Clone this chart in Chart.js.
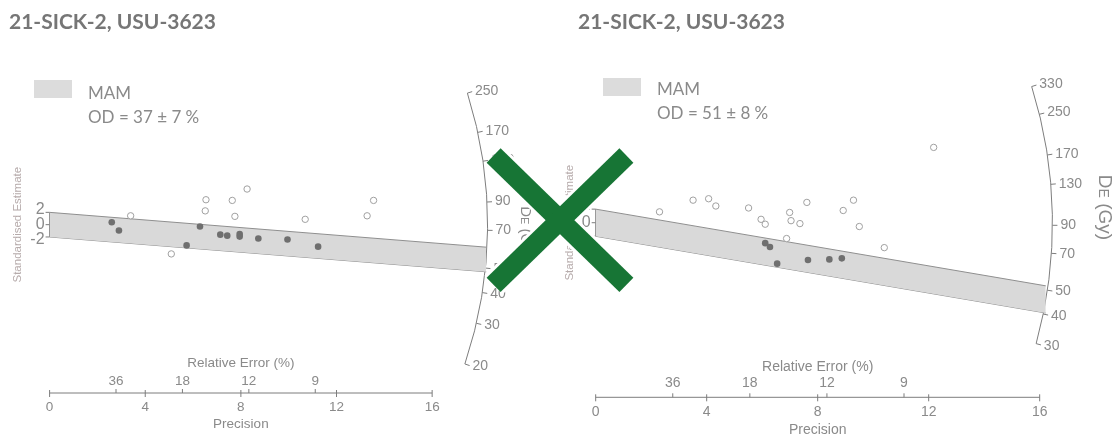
<!DOCTYPE html>
<html>
<head>
<meta charset="utf-8">
<script src="https://cdn.jsdelivr.net/npm/chart.js@4.4.1/dist/chart.umd.min.js"></script>
<style>
  html, body { margin: 0; padding: 0; background: #fff; overflow: hidden; }
  #wrap { position: relative; width: 1120px; height: 438px; }
  #plot { position: absolute; left: 0; top: 0; }
  .title { position: absolute; top: 9px; font: bold 21px Lato, sans-serif; line-height: 24px; color: #767676; white-space: nowrap; }
  .key { position: absolute; font: 17px Lato, sans-serif; line-height: 24px; color: #8a8a8a; white-space: nowrap; }
  .swatch { position: absolute; width: 38px; height: 18px; background: #dcdcdc; }
</style>
</head>
<body>
<div id="wrap">
  <canvas id="plot" width="1120" height="438"></canvas>
  <div class="title" style="left:9px">21-SICK-2, USU-3623</div>
  <div class="title" style="left:578px">21-SICK-2, USU-3623</div>
  <div class="swatch" style="left:34px;top:80px"></div>
  <div class="key" style="left:88px;top:81px">MAM<br><span id="odLeft"></span></div>
  <div class="swatch" style="left:603px;top:78px"></div>
  <div class="key" style="left:657px;top:77px">MAM<br><span id="odRight"></span></div>
</div>
<script>
// axes shared by both radial plots
const precisionTicks = [0, 4, 8, 12, 16];
const relErrorTicks = [36, 18, 12, 9];
const stdTicks = [2, 0, -2];

// left plot
const leftArcTicks = [20, 30, 40, 50, 70, 90, 130, 170, 250];
const leftCentral = 73.6;   // De (Gy) at standardised estimate 0
const leftMam = 54;
const leftOd = "OD = 37 ± 7 %";
const leftInPrec = [2.60, 2.90, 6.29, 5.73, 7.14, 7.43, 7.95, 7.95, 8.73, 9.95, 11.23];
const leftInStd = [0.40, -0.94, -0.30, -3.37, -1.62, -1.78, -1.51, -1.94, -2.25, -2.41, -3.57];
const leftOutPrec = [3.39, 6.54, 6.51, 7.64, 7.75, 8.26, 5.09, 10.69, 13.55, 13.28];
const leftOutStd = [1.44, 4.05, 2.24, 3.94, 1.35, 5.79, -4.75, 0.87, 3.94, 1.44];

// right plot
const rightArcTicks = [30, 40, 50, 70, 90, 130, 170, 250, 330];
const rightCentral = 92.1;
const rightMam = 45.9;
const rightOd = "OD = 51 ± 8 %";
const rightInPrec = [6.11, 6.28, 6.54, 7.65, 8.42, 8.87];
const rightInStd = [-3.01, -3.58, -6.03, -5.50, -5.40, -5.25];
const rightOutPrec = [2.30, 3.51, 4.07, 4.33, 5.51, 5.96, 6.11, 6.99, 7.04, 7.36, 7.61, 6.88, 8.92, 9.29, 9.50, 10.40, 12.18];
const rightOutStd = [1.60, 3.32, 3.53, 2.46, 2.17, 0.50, -0.22, 1.51, 0.30, -0.13, 2.99, -2.33, 1.80, 3.32, -0.56, -3.67, 11.09];

// the big cross, in its own unit box
const crossStartY = [0, 1];
const crossEndY = [1, 0];

document.getElementById("odLeft").textContent = leftOd;
document.getElementById("odRight").textContent = rightOd;

const W = 1120, H = 438;
// pixel layout: origin of each radial plot and px per unit
const layL = { ox: 45, oy: 224.8, kx: 24.125, ky: 6.3, arcR: 18.32, axisY: 393, relLabelY: 381, relTitleY: 363,
               precLabelY: 407, precTitleY: 424.5, font: 13.5, deX: 525, deY: 232, deFont: 15, seX: 18 };
const layR = { ox: 596, oy: 222.8, kx: 28, ky: 6.95, arcR: 16.46, axisY: 397.3, relLabelY: 383.5, relTitleY: 366.7,
               precLabelY: 411.7, precTitleY: 430.5, font: 14, deX: 1104, deY: 207.5, deFont: 19, seX: 570 };
const layX = { ox: 493, oy: 286.5, kx: 134, ky: 132.5 };

function xRange(o) { const min = -o.ox / o.kx; return { min: min, max: min + W / o.kx }; }
function yRange(o) { const max = o.oy / o.ky; return { min: max - H / o.ky, max: max }; }
function hidden(axis, r) { return Object.assign({ type: "linear", axis: axis, display: false, bounds: "data" }, r); }

function pts(xs, ys) { return xs.map((x, i) => ({ x: x, y: ys[i] })); }

// +-2 band round the MAM line, cut where it meets the arc
function bandEdge(central, mam, o, sign) {
    const s = Math.log(mam / central);
    const r = o.ky / o.kx;
    const xe = o.arcR / Math.sqrt(1 + (r * s) * (r * s));
    return [{ x: 0, y: sign * 2 }, { x: xe, y: sign * 2 + s * xe }];
}

function bandSets(central, mam, o, xa, ya) {
    const base = { type: "line", xAxisID: xa, yAxisID: ya, borderColor: "#8f8f8f", borderWidth: 1,
                   pointRadius: 0, tension: 0, order: 5 };
    return [
        Object.assign({}, base, { data: bandEdge(central, mam, o, 1), fill: "+1", backgroundColor: "#d9d9d9" }),
        Object.assign({}, base, { data: bandEdge(central, mam, o, -1), fill: false })
    ];
}

function pointSets(inX, inY, outX, outY, xa, ya) {
    return [
        { data: pts(inX, inY), xAxisID: xa, yAxisID: ya, pointRadius: 3.3, backgroundColor: "#6f6f6f",
          borderColor: "#6f6f6f", borderWidth: 0, order: 2 },
        { data: pts(outX, outY), xAxisID: xa, yAxisID: ya, pointRadius: 3.2, backgroundColor: "#ffffff",
          borderColor: "#a0a0a0", borderWidth: 1, order: 3 }
    ];
}

function crossSets() {
    const sets = [];
    [["#ffffff", 26, 1], ["#177535", 20, 0]].forEach(([col, w, ord]) => {
        crossStartY.forEach((y0, i) => {
            sets.push({ type: "line", data: [{ x: 0, y: y0 }, { x: 1, y: crossEndY[i] }], xAxisID: "xX", yAxisID: "yX",
                        borderColor: col, borderWidth: w, borderCapStyle: "butt", pointRadius: 0, order: ord, clip: false });
        });
    });
    return sets;
}

const panels = [
    { xs: "xL", ys: "yL", lay: layL, central: leftCentral, arcTicks: leftArcTicks },
    { xs: "xR", ys: "yR", lay: layR, central: rightCentral, arcTicks: rightArcTicks }
];

const FONT = '"Liberation Sans", Arial, sans-serif';

function drawDe(ctx, x, y, size) {
    ctx.save();
    ctx.translate(x, y);
    ctx.rotate(Math.PI / 2);
    ctx.textBaseline = "middle";
    ctx.textAlign = "left";
    const big = size + "px " + FONT, small = Math.round(size * 0.75) + "px " + FONT;
    ctx.font = big; const w1 = ctx.measureText("D").width, w3 = ctx.measureText(" (Gy)").width;
    ctx.font = small; const w2 = ctx.measureText("E").width;
    let cx = -(w1 + w2 + w3) / 2;
    ctx.font = big; ctx.fillText("D", cx, 0); cx += w1;
    ctx.font = small; ctx.fillText("E", cx, 1); cx += w2;
    ctx.font = big; ctx.fillText(" (Gy)", cx, 0);
    ctx.restore();
}

function drawPanel(ctx, xs, ys, p) {
    const o = p.lay;
    const x0 = xs.getPixelForValue(0), y0 = ys.getPixelForValue(0);
    const rad = xs.getPixelForValue(o.arcR) - x0;
    const angleOf = d => Math.atan2(ys.getPixelForValue(Math.log(d / p.central)) - y0, xs.getPixelForValue(1) - x0);
    const font = o.font + "px " + FONT;

    ctx.save();
    ctx.strokeStyle = "#7d7d7d";
    ctx.fillStyle = "#8a8a8a";
    ctx.lineWidth = 1;

    // De arc
    const t = p.arcTicks;
    ctx.beginPath();
    ctx.arc(x0, y0, rad, angleOf(t[t.length - 1]), angleOf(t[0]));
    ctx.stroke();
    ctx.font = "14px " + FONT;
    ctx.textAlign = "left";
    ctx.textBaseline = "middle";
    t.forEach(d => {
        const a = angleOf(d), c = Math.cos(a), s = Math.sin(a);
        ctx.beginPath();
        ctx.moveTo(x0 + rad * c, y0 + rad * s);
        ctx.lineTo(x0 + (rad + 5) * c, y0 + (rad + 5) * s);
        ctx.stroke();
        ctx.fillText(String(d), x0 + (rad + 8) * c, y0 + (rad + 8) * s);
    });
    drawDe(ctx, o.deX, o.deY, o.deFont);

    // standardised estimate axis
    ctx.beginPath();
    ctx.moveTo(x0, ys.getPixelForValue(2));
    ctx.lineTo(x0, ys.getPixelForValue(-2));
    stdTicks.forEach(v => {
        ctx.moveTo(x0 - 4, ys.getPixelForValue(v));
        ctx.lineTo(x0, ys.getPixelForValue(v));
    });
    ctx.stroke();
    ctx.font = "16px " + FONT;
    ctx.textAlign = "right";
    stdTicks.forEach(v => ctx.fillText(String(v), x0 - 5, ys.getPixelForValue(v * 1.25)));
    ctx.save();
    ctx.translate(o.seX, y0);
    ctx.rotate(-Math.PI / 2);
    ctx.textAlign = "center";
    ctx.fillStyle = "#b6abab";
    ctx.font = "11.5px " + FONT;
    ctx.fillText("Standardised Estimate", 0, 0);
    ctx.restore();

    // precision / relative error axis
    const ay = o.axisY;
    ctx.beginPath();
    ctx.moveTo(xs.getPixelForValue(precisionTicks[0]), ay);
    ctx.lineTo(xs.getPixelForValue(precisionTicks[precisionTicks.length - 1]), ay);
    precisionTicks.forEach(v => {
        ctx.moveTo(xs.getPixelForValue(v), ay - 3);
        ctx.lineTo(xs.getPixelForValue(v), ay + 4);
    });
    relErrorTicks.forEach(e => {
        ctx.moveTo(xs.getPixelForValue(100 / e), ay);
        ctx.lineTo(xs.getPixelForValue(100 / e), ay - 4);
    });
    ctx.stroke();
    ctx.font = font;
    ctx.textAlign = "center";
    precisionTicks.forEach(v => ctx.fillText(String(v), xs.getPixelForValue(v), o.precLabelY));
    relErrorTicks.forEach(e => ctx.fillText(String(e), xs.getPixelForValue(100 / e), o.relLabelY));
    ctx.fillText("Relative Error (%)", xs.getPixelForValue(8), o.relTitleY);
    ctx.fillText("Precision", xs.getPixelForValue(8), o.precTitleY);
    ctx.restore();
}

const radialDecor = {
    id: "radialDecor",
    beforeDatasetsDraw(chart) {
        panels.forEach(p => drawPanel(chart.ctx, chart.scales[p.xs], chart.scales[p.ys], p));
    }
};

new Chart(document.getElementById("plot").getContext("2d"), {
    type: "scatter",
    data: {
        datasets: [].concat(
            crossSets(),
            pointSets(leftInPrec, leftInStd, leftOutPrec, leftOutStd, "xL", "yL"),
            pointSets(rightInPrec, rightInStd, rightOutPrec, rightOutStd, "xR", "yR"),
            bandSets(leftCentral, leftMam, layL, "xL", "yL"),
            bandSets(rightCentral, rightMam, layR, "xR", "yR")
        )
    },
    options: {
        responsive: false,
        animation: false,
        events: [],
        layout: { padding: 0 },
        plugins: { legend: { display: false }, tooltip: { enabled: false } },
        scales: {
            xL: hidden("x", xRange(layL)), yL: hidden("y", yRange(layL)),
            xR: hidden("x", xRange(layR)), yR: hidden("y", yRange(layR)),
            xX: hidden("x", xRange(layX)), yX: hidden("y", yRange(layX))
        }
    },
    plugins: [radialDecor]
});
</script>
</body>
</html>
